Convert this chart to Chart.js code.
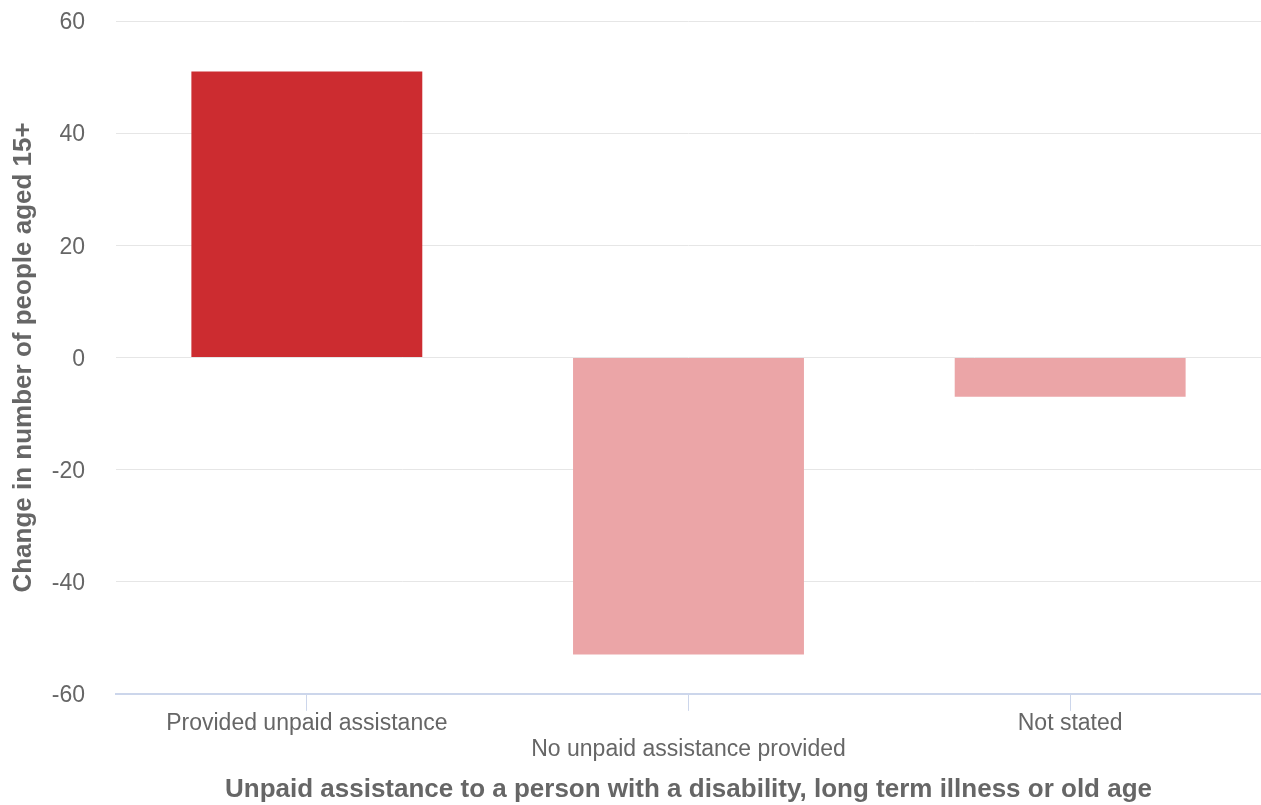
<!DOCTYPE html>
<html>
<head>
<meta charset="utf-8">
<script src="https://cdn.jsdelivr.net/npm/chart.js@4/dist/chart.umd.min.js"></script>
<style>
  html, body { margin: 0; padding: 0; background: #fff; }
  #wrap { width: 1261px; height: 805px; position: relative; }
</style>
</head>
<body>
<div id="wrap"><canvas id="c"></canvas></div>
<script>
const categories = ['Provided unpaid assistance', 'No unpaid assistance provided', 'Not stated'];
const values = [51, -53, -7];
const barColors = ['#cc2c30', '#eba5a7', '#eba5a7'];
const yTicks = [-60, -40, -20, 0, 20, 40, 60];
const xTitle = 'Unpaid assistance to a person with a disability, long term illness or old age';
const yTitle = 'Change in number of people aged 15+';

const FONT = "'Liberation Sans', Arial, sans-serif";

new Chart(document.getElementById('c'), {
  type: 'bar',
  data: {
    labels: categories,
    datasets: [{
      data: values,
      backgroundColor: barColors,
      borderWidth: 0,
      barPercentage: 0.605,
      categoryPercentage: 1.0
    }]
  },
  options: {
    responsive: true,
    maintainAspectRatio: false,
    animation: false,
    layout: { padding: { top: 21, right: 0, left: 0, bottom: 0 } },
    plugins: { legend: { display: false }, tooltip: { enabled: false } },
    scales: {
      x: {
        grid: {
          display: true,
          drawOnChartArea: false,
          drawTicks: true,
          tickLength: 17,
          tickColor: '#ccd6eb',
          offset: false,
          lineWidth: 1
        },
        border: { display: true, color: '#ccd6eb', width: 2 },
        ticks: {
          autoSkip: false,
          maxRotation: 0,
          minRotation: 0,
          padding: 0,
          color: '#666666',
          font: { family: FONT, size: 23, lineHeight: 1.13 },
          callback: function(v, i) {
            const l = this.getLabelForValue(v);
            return i % 2 === 1 ? ['', l] : l;
          }
        },
        afterFit: (axis) => { axis.paddingLeft = 0; axis.paddingRight = 0; },
        title: {
          display: true,
          text: xTitle,
          color: '#666666',
          font: { family: FONT, size: 26, weight: 'bold', lineHeight: 1.2 },
          padding: { top: 11, bottom: 0 }
        }
      },
      y: {
        min: yTicks[0],
        max: yTicks[yTicks.length - 1],
        afterBuildTicks: (axis) => { axis.ticks = yTicks.map(v => ({ value: v })); },
        afterFit: (axis) => { axis.width = 116; axis.paddingTop = 0; axis.paddingBottom = 0; },
        grid: { color: '#e6e6e6', lineWidth: 1, drawTicks: false },
        border: { display: false },
        ticks: {
          padding: 31,
          labelOffset: 2,
          color: '#666666',
          font: { family: FONT, size: 23 }
        },
        title: {
          display: true,
          text: yTitle,
          color: '#666666',
          font: { family: FONT, size: 26, weight: 'bold', lineHeight: 1.2 },
          padding: { top: 8, bottom: 0 }
        }
      }
    }
  }
});
</script>
</body>
</html>
